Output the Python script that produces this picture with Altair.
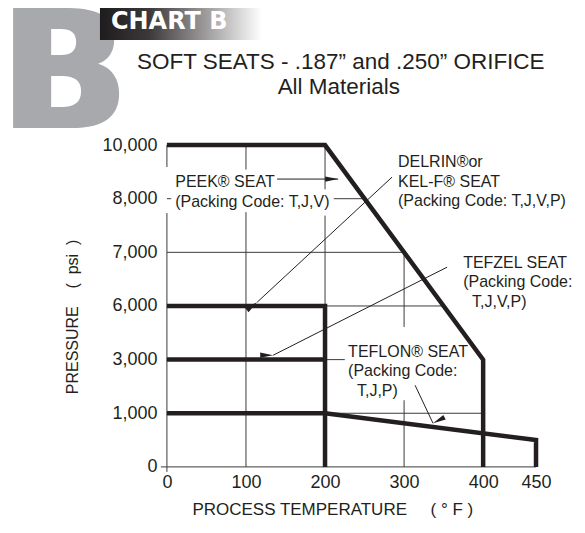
import math
import altair as alt
import numpy as np
import pandas as pd

# ---------------- data ----------------
temp_ticks = [0, 100, 200, 300, 400, 450]
pressure_ticks = [0, 1000, 3000, 6000, 7000, 8000, 10000]

series_names = ["DELRIN", "TEFLON", "PEEK", "TEFZEL"]
delrin_t = [0, 200, 400, 400]
delrin_p = [10000, 10000, 3000, 0]
teflon_t = [0, 200, 450, 450]
teflon_p = [1000, 1000, 500, 0]
peek_t = [0, 200, 200]
peek_p = [6000, 6000, 0]
tefzel_t = [0, 200]
tefzel_p = [3000, 3000]

# thin grid segments (clipped to the DELRIN envelope, broken by labels)
grid_h_p = [0, 1000, 3000, 6000, 7000, 8000]
grid_h_t_end = [450, 400, 225, 350, 300, 250]
grid_v_t = [0, 0, 100, 200, 300, 300, 400]
grid_v_p_start = [0, 9180, 0, 0, 0, 4827, 0]
grid_v_p_end = [7733, 10000, 10000, 10000, 1486, 7000, 3000]

NB = "\u00a0"
IND = "\u200b" + NB * 2
# annotation labels
label_text = [
    "PEEK® SEAT\n(Packing Code: T,J,V)",
    "DELRIN®or\nKEL-F® SEAT\n(Packing Code: T,J,V,P)",
    "TEFZEL SEAT\n(Packing Code:\n" + IND + "T,J,V,P)",
    "TEFLON® SEAT\n(Packing Code:\n" + IND + "T,J,P)",
]
label_t = [10.5, 292.3, 374.7, 229.2]
label_p = [8621, 9366, 6801, 3429]

# arrows (start -> tip)
arrow_t1 = [139.4, 284.8, 354.4, 313.9]
arrow_p1 = [8732, 8806, 6724, 2044]
arrow_t2 = [216.6, 114.2, 134.4, 336.6]
arrow_p2 = [8732, 6071, 3246, 813]

# ---------------- layout ----------------
W = 369.3
H = 322.0
x_dom = [0, 400, 450]
x_rng = [0, 316.4, W]
y_rng = [H - i * H / 6 for i in range(7)]

FONT = "Liberation Sans"
INK = "#231f20"

xs = alt.Scale(domain=x_dom, range=x_rng, nice=False, zero=False)
ys = alt.Scale(domain=pressure_ticks, range=y_rng, nice=False, zero=False)


def px_x(t):
    return float(np.interp(t, x_dom, x_rng))


def px_y(p):
    return float(np.interp(p, pressure_ticks, y_rng))


rows = []
for name, ts, ps in zip(series_names,
                        [delrin_t, teflon_t, peek_t, tefzel_t],
                        [delrin_p, teflon_p, peek_p, tefzel_p]):
    for i, (t, p) in enumerate(zip(ts, ps)):
        rows.append({"series": name, "i": i, "t": t, "p": p})
lines_df = pd.DataFrame(rows)

grid_rows = []
for p, te in zip(grid_h_p, grid_h_t_end):
    grid_rows.append({"t1": 0, "t2": te, "p1": p, "p2": p})
for t, ps_, pe in zip(grid_v_t, grid_v_p_start, grid_v_p_end):
    grid_rows.append({"t1": t, "t2": t, "p1": ps_, "p2": pe})
grid_df = pd.DataFrame(grid_rows)

labels_df = pd.DataFrame({"text": label_text, "t": label_t, "p": label_p})

angles = []
for a, b, c, d in zip(arrow_t1, arrow_p1, arrow_t2, arrow_p2):
    dx = px_x(c) - px_x(a)
    dy = px_y(d) - px_y(b)
    angles.append(math.degrees(math.atan2(dy, dx)) % 360)
arrows_df = pd.DataFrame({"t1": arrow_t1, "p1": arrow_p1,
                          "t2": arrow_t2, "p2": arrow_p2, "ang": angles})

origin_df = pd.DataFrame({"t": [0], "p": [0]})

x_axis = alt.Axis(values=temp_ticks, domain=False, ticks=False, grid=False,
                  labelFont=FONT, labelFontSize=18, labelColor=INK,
                  labelPadding=7, labelFlush=False, labelOverlap=False,
                  title="PROCESS TEMPERATURE" + NB * 5 + "(" + NB + "°" + NB + "F" + NB + ")",
                  titleFont=FONT,
                  titleFontSize=17, titleFontWeight="normal", titleColor=INK,
                  titleX=165.5, titleY=48, titleAlign="center",
                  titleBaseline="alphabetic")
y_axis = alt.Axis(values=pressure_ticks, labelExpr="format(datum.value, ',')",
                  domain=False, ticks=False,
                  grid=False, labelFont=FONT, labelFontSize=18, labelColor=INK,
                  labelPadding=10, labelOverlap=False,
                  title="PRESSURE" + NB * 4 + "(" + NB * 2 + "psi" + NB * 2 + ")",
                  titleFont=FONT, titleFontSize=16,
                  titleFontWeight="normal", titleColor=INK, titleAngle=270,
                  titleX=-94, titleY=171.5, titleAlign="center",
                  titleBaseline="middle")

grid = alt.Chart(grid_df).mark_rule(color="#3a3a3a", strokeWidth=1).encode(
    x=alt.X("t1:Q", scale=xs, axis=x_axis),
    x2="t2:Q",
    y=alt.Y("p1:Q", scale=ys, axis=y_axis),
    y2="p2:Q",
)

# small ticks at the origin of both axes
tick_x0 = alt.Chart(origin_df).mark_point(
    shape="M0,0 L0,1", filled=False, stroke="#3a3a3a", strokeWidth=1,
    opacity=1, size=100
).encode(x=alt.X("t:Q", scale=xs), y=alt.Y("p:Q", scale=ys))
tick_y0 = alt.Chart(origin_df).mark_point(
    shape="M0,0 L-1,0", filled=False, stroke="#3a3a3a", strokeWidth=1,
    opacity=1, size=144
).encode(x=alt.X("t:Q", scale=xs), y=alt.Y("p:Q", scale=ys))

halo = alt.Chart(labels_df).mark_text(
    font=FONT, fontSize=16, align="left", baseline="middle", lineBreak="\n",
    lineHeight=19.5, stroke="white", strokeWidth=11, fill="white",
    strokeJoin="round"
).encode(x=alt.X("t:Q", scale=xs), y=alt.Y("p:Q", scale=ys), text="text:N")

thick = alt.Chart(lines_df).mark_line(
    color=INK, strokeWidth=4.5, strokeJoin="miter", strokeCap="butt"
).encode(
    x=alt.X("t:Q", scale=xs), y=alt.Y("p:Q", scale=ys),
    detail="series:N", order="i:Q",
)

arrow_lines = alt.Chart(arrows_df).mark_rule(color=INK, strokeWidth=1).encode(
    x=alt.X("t1:Q", scale=xs), x2="t2:Q",
    y=alt.Y("p1:Q", scale=ys), y2="p2:Q",
)

arrow_heads = alt.Chart(arrows_df).mark_point(
    shape="M0,0 L-1,-0.2 L-1,0.2 Z", filled=True, color=INK, opacity=1,
    size=676
).encode(
    x=alt.X("t2:Q", scale=xs), y=alt.Y("p2:Q", scale=ys), angle="ang:Q",
)

texts = alt.Chart(labels_df).mark_text(
    font=FONT, fontSize=16, align="left", baseline="middle", lineBreak="\n",
    lineHeight=19.5, color=INK
).encode(x=alt.X("t:Q", scale=xs), y=alt.Y("p:Q", scale=ys), text="text:N")

one = pd.DataFrame({"k": [0]})

big_b1 = alt.Chart(one).mark_text(
    text="B", font="DejaVu Sans", fontWeight="bold", fontSize=165,
    color="#a7a9ac", align="left", baseline="alphabetic"
).encode(x=alt.value(-169), y=alt.value(-17))
big_b2 = alt.Chart(one).mark_text(
    text="B", font="DejaVu Sans", fontWeight="bold", fontSize=165,
    color="#a7a9ac", align="left", baseline="alphabetic"
).encode(x=alt.value(-162), y=alt.value(-17))

banner = alt.Chart(one).mark_rect(
    color={"gradient": "linear", "x1": 0, "y1": 0, "x2": 1, "y2": 0,
           "stops": [{"offset": 0, "color": "#1e1c1d"},
                     {"offset": 0.3, "color": "#3a3839"},
                     {"offset": 0.65, "color": "#9c9a9b"},
                     {"offset": 1, "color": "#ffffff"}]}
).encode(x=alt.value(-67), x2=alt.value(95), y=alt.value(-143),
         y2=alt.value(-105))

chart_b = alt.Chart(one).mark_text(
    text="CHART B", font="DejaVu Sans", fontWeight="bold", fontSize=24,
    color="white", align="left", baseline="alphabetic"
).encode(x=alt.value(-56), y=alt.value(-116))

title1 = alt.Chart(one).mark_text(
    text="SOFT SEATS - .187” and .250” ORIFICE", font=FONT, fontSize=22.5,
    color=INK, align="center", baseline="alphabetic"
).encode(x=alt.value(174), y=alt.value(-76))

title2 = alt.Chart(one).mark_text(
    text="All Materials", font=FONT, fontSize=22.5, color=INK, align="center",
    baseline="alphabetic"
).encode(x=alt.value(172), y=alt.value(-51))

chart = alt.layer(
    grid, tick_x0, tick_y0, halo, thick, arrow_lines, arrow_heads, texts,
    big_b1, big_b2, banner, chart_b, title1, title2,
).properties(
    width=W, height=H,
    autosize=alt.AutoSizeParams(type="none"),
    padding={"left": 159, "top": 137, "right": 41, "bottom": 60},
).configure_view(stroke=None)

chart.save("out.html", embed_options={"renderer": "svg", "actions": False})
